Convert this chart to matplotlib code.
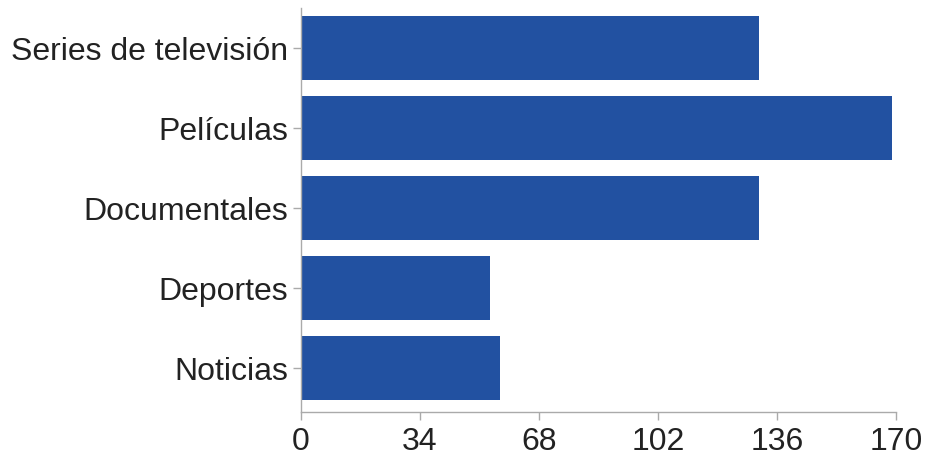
import matplotlib
matplotlib.use("Agg")
import matplotlib.pyplot as plt

categories = ["Series de televisión", "Películas", "Documentales", "Deportes", "Noticias"]
values = [131, 169, 131, 54, 57]
xticks = [0, 34, 68, 102, 136, 170]

plt.rcParams['font.family'] = ['Liberation Sans', 'DejaVu Sans']

fig = plt.figure(figsize=(9.25, 4.6), dpi=100)
ax = fig.add_axes([300.7/925, 47/460, (896-300.7)/925, (451-47)/460])

ypos = list(range(len(categories)))
ax.barh(ypos, values, height=0.8, color='#2251a1', edgecolor='none')
ax.set_yticks(ypos)
ax.set_yticklabels(categories)
ax.set_ylim(4.55, -0.5)
ax.set_xlim(0, 170)
ax.set_xticks(xticks)
ax.set_xticklabels([str(t) for t in xticks])

for s in ['top', 'right']:
    ax.spines[s].set_visible(False)
for s in ['left', 'bottom']:
    ax.spines[s].set_color('#aaaaaa')
    ax.spines[s].set_linewidth(1.0)

ax.tick_params(axis='both', colors='#aaaaaa', labelcolor='#222222', labelsize=23, length=6, width=1)
ax.tick_params(axis='y', pad=3)
ax.tick_params(axis='x', pad=4)

fig.savefig("out.png", dpi=100)
